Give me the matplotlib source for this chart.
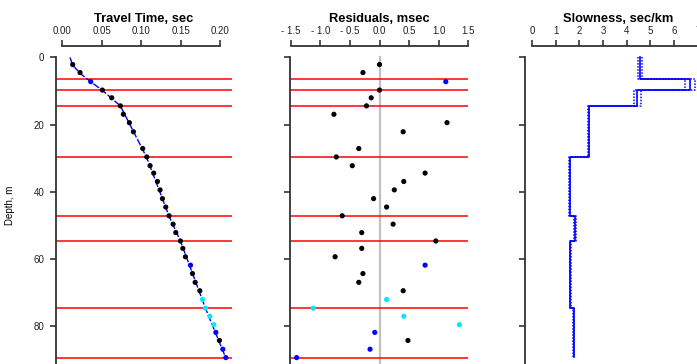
import matplotlib
matplotlib.use("Agg")
import matplotlib.pyplot as plt
import numpy as np

plt.rcParams["font.family"] = ["Liberation Sans", "DejaVu Sans"]

# receiver depths (m), picked travel times (s), residuals (ms), pick class
depth = [2.1, 4.5, 7.2, 9.7, 12.0, 14.4, 16.9, 19.4, 22.1, 27.1, 29.6, 32.2,
         34.4, 36.9, 39.4, 42.0, 44.5, 47.1, 49.6, 52.1, 54.6, 56.8, 59.3,
         61.8, 64.3, 66.9, 69.4, 72.0, 74.6, 77.0, 79.5, 81.8, 84.2, 86.8, 89.3]
ttime = [0.0135, 0.0228, 0.0363, 0.0510, 0.0629, 0.0738, 0.0776, 0.0852,
         0.0903, 0.1021, 0.1072, 0.1114, 0.1160, 0.1207, 0.1240, 0.1270,
         0.1312, 0.1354, 0.1405, 0.1439, 0.1498, 0.1528, 0.1561, 0.1625,
         0.1650, 0.1684, 0.1743, 0.1776, 0.1814, 0.1870, 0.1920, 0.1946,
         0.1991, 0.2034, 0.2072]
resid = [0.0, -0.28, 1.12, 0.0, -0.14, -0.22, -0.77, 1.14, 0.40, -0.35, -0.73,
         -0.46, 0.77, 0.41, 0.25, -0.10, 0.12, -0.63, 0.23, -0.30, 0.95, -0.30,
         -0.75, 0.77, -0.28, -0.35, 0.40, 0.12, -1.12, 0.41, 1.35, -0.08, 0.48,
         -0.16, -1.40]
pick = ["k", "k", "b", "k", "k", "k", "k", "k", "k", "k", "k", "k", "k", "k",
        "k", "k", "k", "k", "k", "k", "k", "k", "k", "b", "k", "k", "k", "c",
        "c", "c", "c", "b", "k", "b", "b"]

# model travel-time curve
model_depth = [0, 2.3, 4.7, 6.3, 9.8, 14.4, 29.7, 47.2, 54.6, 74.6, 89.4]
model_time = [0.0101, 0.0135, 0.0228, 0.0312, 0.0510, 0.0738, 0.1070, 0.1354,
              0.1498, 0.1814, 0.2072]

# layered slowness model (sec/km) with bounds
layer_top = [0, 6.3, 9.8, 14.4, 29.7, 47.2, 54.6, 74.6]
layer_bot = [6.3, 9.8, 14.4, 29.7, 47.2, 54.6, 74.6, 89.2]
slow = [4.56, 6.65, 4.44, 2.39, 1.58, 1.82, 1.62, 1.76]
slow_lo = [4.49, 6.48, 4.32, 2.37, 1.56, 1.79, 1.60, 1.74]
slow_hi = [4.63, 6.90, 4.58, 2.41, 1.60, 1.85, 1.64, 1.78]
boundaries = [6.3, 9.8, 14.4, 29.7, 47.2, 54.6, 74.6, 89.4]

COLORS = {"k": "black", "b": "#0000ff", "c": "#00e8ff"}
W, H = 697, 364
TOP = 45.7
YLIM = (91.2, -3.5)
SPINE = "#333333"

fig = plt.figure(figsize=(W / 100, H / 100), dpi=100)


def make_ax(x0, x1, xlim, xbounds, xticks, xlabels, title):
    ax = fig.add_axes([x0 / W, 0, (x1 - x0) / W, (H - TOP) / H])
    ax.set_xlim(*xlim)
    ax.set_ylim(*YLIM)
    ax.spines["right"].set_visible(False)
    ax.spines["bottom"].set_visible(False)
    ax.spines["top"].set_bounds(*xbounds)
    ax.spines["left"].set_bounds(0, YLIM[0])
    for s in ("top", "left"):
        ax.spines[s].set_color(SPINE)
        ax.spines[s].set_linewidth(1.3)
    ax.xaxis.tick_top()
    ax.set_xticks(xticks)
    ax.set_xticklabels(xlabels)
    ax.set_yticks([0, 20, 40, 60, 80])
    ax.tick_params(axis="both", direction="out", length=4.5, width=1.1,
                   colors="#222222", labelsize=7, pad=4)
    ax.tick_params(axis="x", pad=2.5)
    ax.set_title(title, fontsize=9.3, fontweight="bold", pad=3)
    return ax


ax1 = make_ax(56, 232, (-0.0076, 0.215), (0, 0.2),
              [0, 0.05, 0.10, 0.15, 0.20],
              ["0.00", "0.05", "0.10", "0.15", "0.20"], "Travel Time, sec")
ax1.set_ylabel("Depth, m", fontsize=7)
ax1.yaxis.set_label_coords(-0.235, 0.5)
for b in boundaries:
    ax1.axhline(b, color="red", lw=1.1)
ax1.plot(model_time, model_depth, color="#0000ff", lw=1.0,
         linestyle=(0, (5, 1.5)), zorder=3)
ax1.scatter(ttime, depth, c=[COLORS[p] for p in pick], s=14, zorder=4,
            linewidths=0)

ax2 = make_ax(290, 468.3, (-1.512, 1.5), (-1.5, 1.5),
              [-1.5, -1.0, -0.5, 0.0, 0.5, 1.0, 1.5],
              ["- 1.5", "- 1.0", "- 0.5", "0.0", "0.5", "1.0", "1.5"],
              "Residuals, msec")
ax2.set_yticklabels([])
ax2.plot([0, 0], [0, YLIM[0]], color="#c0c0c0", lw=1.6, zorder=1)
for b in boundaries:
    ax2.axhline(b, color="red", lw=1.1)
ax2.scatter(resid, depth, c=[COLORS[p] for p in pick], s=14, zorder=4,
            linewidths=0)

ax3 = make_ax(525, 712, (-0.3, 7.6), (0, 7.6), list(range(8)),
              [str(i) for i in range(8)], "Slowness, sec/km")
ax3.set_yticklabels([])
ys = np.column_stack([layer_top, layer_bot]).ravel()
ax3.plot(np.repeat(slow_lo, 2), ys, color="#0000ff", lw=1.1,
         linestyle=(0, (1, 1)))
ax3.plot(np.repeat(slow_hi, 2), ys, color="#0000ff", lw=1.1,
         linestyle=(0, (1, 1)))
ax3.plot(np.repeat(slow, 2), ys, color="#0000ff", lw=1.2)

fig.savefig("out.png", dpi=100)
